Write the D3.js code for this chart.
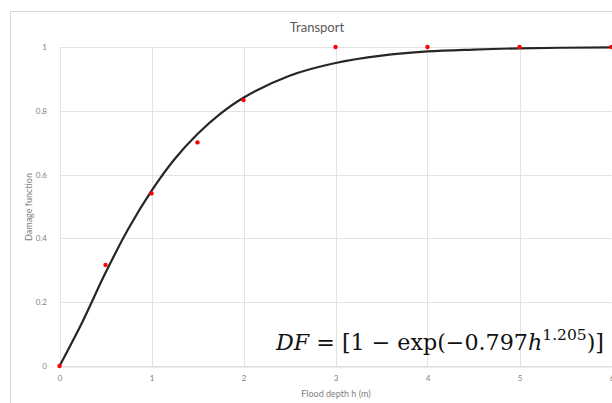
<!DOCTYPE html>
<html>
<head>
<meta charset="utf-8">
<script src="https://cdn.jsdelivr.net/npm/d3@7"></script>
<style>
  body { margin: 0; background: #fff; }
  svg { display: block; font-family: Lato, "Open Sans", sans-serif; }
</style>
</head>
<body>
<svg id="chart" width="612" height="403"></svg>
<script>
// observed points
var depths = [0, 0.5, 1, 1.5, 2, 3, 4, 5, 6];
var damage = [0, 0.317, 0.541, 0.701, 0.834, 1, 1, 1, 1];

// fitted curve
var curveDepths = [0, 0.25, 0.5, 0.75, 1, 1.25, 1.5, 1.75, 2, 2.5, 3, 3.5, 4, 4.5, 5, 6];
var curveDamage = [0, 0.139, 0.292, 0.431, 0.549, 0.648, 0.727, 0.791, 0.841, 0.910, 0.950, 0.973, 0.986, 0.992, 0.996, 0.999];

var xTicks = [0, 1, 2, 3, 4, 5, 6];
var yTicks = [0, 0.2, 0.4, 0.6, 0.8, 1];

var svg = d3.select("#chart");
var plotLeft = 59.5, plotRight = 611.5, plotTop = 47, plotBottom = 366;

var x = d3.scaleLinear().domain([0, 6]).range([plotLeft, plotRight]);
var y = d3.scaleLinear().domain([0, 1]).range([plotBottom, plotTop]);

// outer chart border
svg.append("rect").attr("x", 10.5).attr("y", 11.5).attr("width", 620).attr("height", 420)
  .attr("fill", "#fff").attr("stroke", "#d9d9d9");

// gridlines
svg.append("g").selectAll("line").data(yTicks).join("line")
  .attr("x1", plotLeft).attr("x2", plotRight)
  .attr("y1", function(d) { return Math.round(y(d)) + 0.5; })
  .attr("y2", function(d) { return Math.round(y(d)) + 0.5; })
  .attr("stroke", "#e3e3e3");
svg.append("g").selectAll("line").data(xTicks).join("line")
  .attr("y1", plotTop).attr("y2", plotBottom)
  .attr("x1", function(d) { return Math.round(x(d)) + 0.5; })
  .attr("x2", function(d) { return Math.round(x(d)) + 0.5; })
  .attr("stroke", "#e3e3e3");

// axes
var xAxis = svg.append("g").attr("transform", "translate(0," + (Math.round(plotBottom) + 0.5) + ")")
  .call(d3.axisBottom(x).tickValues(xTicks).tickSize(0).tickPadding(9).tickFormat(d3.format("d")));
var yAxis = svg.append("g").attr("transform", "translate(" + (plotLeft - 0.5) + ",0)")
  .call(d3.axisLeft(y).tickValues(yTicks).tickSize(0).tickPadding(12).tickFormat(function(d) { return String(d); }));
xAxis.select(".domain").attr("stroke", "#d9d9d9");
yAxis.select(".domain").remove();
svg.selectAll(".tick text").attr("fill", "#7f7f7f").attr("font-size", 8)
  .attr("font-family", "Lato, sans-serif");

// titles
svg.append("text").attr("x", 317).attr("y", 32).attr("text-anchor", "middle")
  .attr("font-size", 13).attr("fill", "#595959").text("Transport");
svg.append("text").attr("x", 336).attr("y", 397).attr("text-anchor", "middle")
  .attr("font-size", 9).attr("fill", "#7f7f7f").text("Flood depth h (m)");
svg.append("text").attr("transform", "translate(32,207) rotate(-90)").attr("text-anchor", "middle")
  .attr("font-size", 9).attr("fill", "#7f7f7f").text("Damage function");

// fitted curve
var line = d3.line()
  .x(function(d, i) { return x(curveDepths[i]); })
  .y(function(d) { return y(d); })
  .curve(d3.curveCatmullRom.alpha(0.5));
svg.append("path").datum(curveDamage).attr("d", line)
  .attr("fill", "none").attr("stroke", "#262626").attr("stroke-width", 2.2);

// observed points
svg.append("g").selectAll("circle").data(damage).join("circle")
  .attr("cx", function(d, i) { return x(depths[i]); })
  .attr("cy", function(d) { return y(d); })
  .attr("r", 2.2).attr("fill", "#ff0000");

// equation
var eq = svg.append("text").attr("x", 276).attr("y", 350)
  .attr("font-family", "'DejaVu Serif', serif").attr("font-size", 22.2).attr("fill", "#111");
eq.append("tspan").attr("font-style", "italic").text("DF");
eq.append("tspan").text(" = [1 \u2212 exp(\u22120.797");
eq.append("tspan").attr("font-style", "italic").text("h");
eq.append("tspan").attr("font-size", 15.5).attr("dy", -10).text("1.205");
eq.append("tspan").attr("dy", 10).text(")]");
</script>
</body>
</html>
